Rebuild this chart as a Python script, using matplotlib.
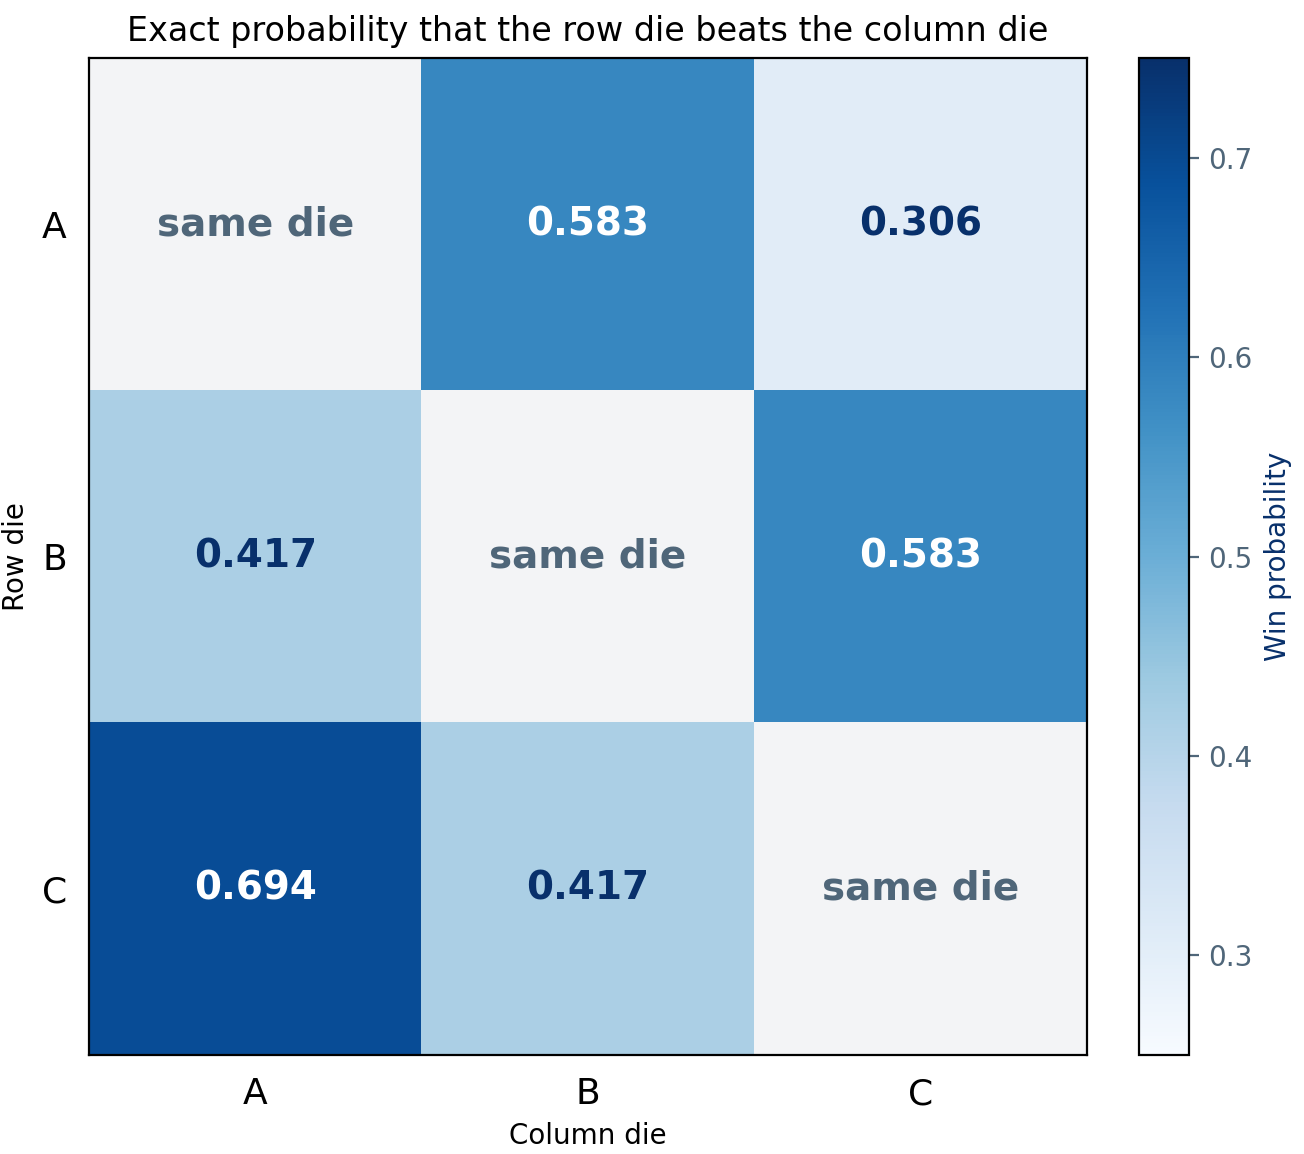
import numpy as np
import matplotlib
matplotlib.use("Agg")
import matplotlib.pyplot as plt

dice = ["A", "B", "C"]
probs = [[np.nan, 0.583, 0.306],
         [0.417, np.nan, 0.583],
         [0.694, 0.417, np.nan]]

data = np.ma.masked_invalid(np.array(probs, dtype=float))
cmap = plt.get_cmap("Blues").copy()
cmap.set_bad("#f3f4f6")

fig = plt.figure(figsize=(6.52, 5.77), dpi=200)
ax = fig.add_axes([89/1304, 1-1055/1154, 998/1304, 997/1154])
cax = fig.add_axes([1139/1304, 1-1055/1154, 50/1304, 997/1154])
im = ax.imshow(data, cmap=cmap, vmin=0.25, vmax=0.75, aspect="auto")
ax.set_xticks(range(3))
ax.set_xticklabels(dice, fontsize=13)
ax.set_yticks(range(3))
ax.set_yticklabels(dice, fontsize=13)
ax.tick_params(length=0, pad=8)
ax.set_xlabel("Column die", fontsize=10)
ax.set_ylabel("Row die", fontsize=10)
ax.set_title("Exact probability that the row die beats the column die", fontsize=12)
for i in range(3):
    for j in range(3):
        v = probs[i][j]
        if np.isnan(v):
            ax.text(j, i, "same die", ha="center", va="center", fontsize=14,
                    fontweight="bold", color="#4f6679")
        else:
            ax.text(j, i, f"{v:.3f}", ha="center", va="center", fontsize=14,
                    fontweight="bold", color="white" if v > 0.55 else "#08306b")
cb = fig.colorbar(im, cax=cax)
cb.ax.tick_params(labelsize=10, colors="#4f6679")
cb.set_label("Win probability", color="#08306b", fontsize=10)
fig.savefig("out.png", dpi=200)
